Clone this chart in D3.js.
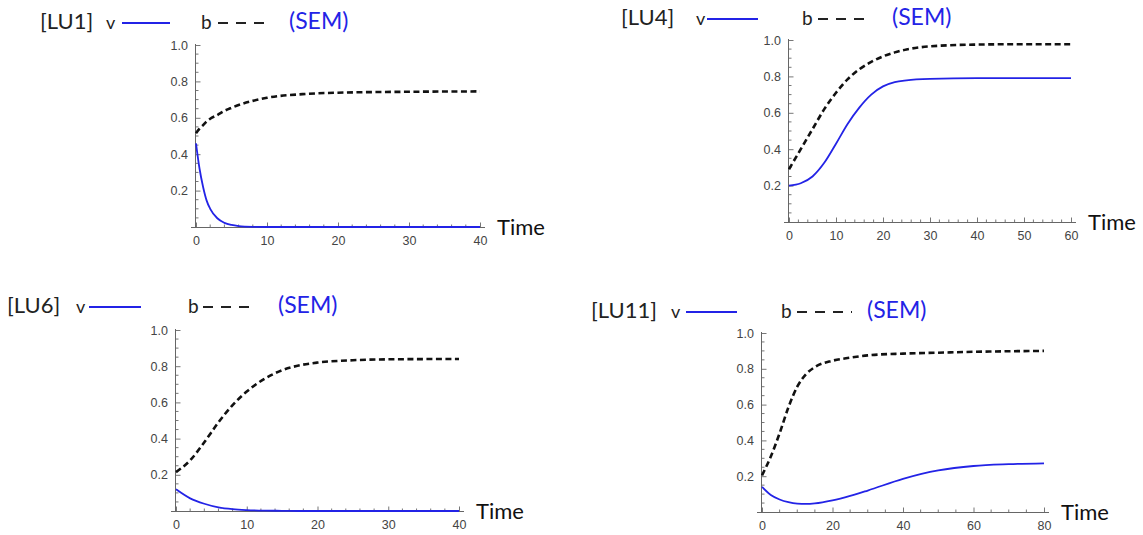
<!DOCTYPE html>
<html>
<head>
<meta charset="utf-8">
<script src="https://cdn.jsdelivr.net/npm/d3@7"></script>
<style>
  body { margin: 0; background: #fff; }
  .tick text { font-family: "Liberation Sans", Arial, sans-serif; font-size: 12.5px; fill: #444; }
  .ttl { font-family: Lato, "Open Sans", sans-serif; font-size: 22px; }
</style>
</head>
<body>
<div id="chart"></div>
<script>
// time points and values
var lu1Time = [0, 0.5, 1, 1.5, 2, 3, 4, 5, 6, 8, 10, 15, 20, 30, 40];
var lu1V = [0.46, 0.32, 0.22, 0.145, 0.1, 0.048, 0.023, 0.011, 0.005, 0.001, 0, 0, 0, 0, 0];
var lu1B = [0.515, 0.54, 0.56, 0.58, 0.595, 0.615, 0.638, 0.655, 0.67, 0.693, 0.71, 0.73, 0.738, 0.743, 0.745];

var lu4Time = [0, 2.5, 5, 7.5, 10, 12.5, 15, 17.5, 20, 22.5, 25, 30, 40, 50, 60];
var lu4V = [0.2, 0.213, 0.25, 0.325, 0.43, 0.54, 0.63, 0.7, 0.745, 0.768, 0.778, 0.786, 0.79, 0.79, 0.79];
var lu4B = [0.29, 0.4, 0.51, 0.62, 0.71, 0.785, 0.84, 0.88, 0.91, 0.932, 0.948, 0.965, 0.975, 0.977, 0.977];

var lu6Time = [0, 2, 4, 6, 8, 10, 12.5, 15, 17.5, 20, 25, 30, 40];
var lu6V = [0.12, 0.07, 0.04, 0.02, 0.01, 0.005, 0.002, 0.001, 0, 0, 0, 0, 0];
var lu6B = [0.215, 0.28, 0.38, 0.49, 0.585, 0.66, 0.73, 0.778, 0.805, 0.82, 0.833, 0.838, 0.84];

var lu11Time = [0, 2.5, 5, 7.5, 10, 12.5, 15, 20, 25, 30, 40, 50, 60, 70, 80];
var lu11V = [0.14, 0.095, 0.07, 0.055, 0.047, 0.045, 0.048, 0.065, 0.09, 0.12, 0.185, 0.232, 0.257, 0.267, 0.272];
var lu11B = [0.205, 0.31, 0.44, 0.585, 0.7, 0.77, 0.81, 0.845, 0.862, 0.875, 0.885, 0.89, 0.895, 0.898, 0.9];

var yTicks = [0.2, 0.4, 0.6, 0.8, 1.0];

var blue = "#2323e6";

var svg = d3.select("#chart").append("svg")
  .attr("width", 1143)
  .attr("height", 535);

var panels = [
  { name: "[LU1]", time: lu1Time, v: lu1V, b: lu1B, tMax: 40, major: 10, minor: 2,
    x0: 196, x1: 480, y0: 227, y1: 45,
    tx: 40, ty: 29, vx: 106, lx: [122, 170], bx: 201, dx: [218, 268], sx: 289 },
  { name: "[LU4]", time: lu4Time, v: lu4V, b: lu4B, tMax: 60, major: 10, minor: 2,
    x0: 789, x1: 1071, y0: 222, y1: 40,
    tx: 621, ty: 25, vx: 696, lx: [707, 758], bx: 802, dx: [818, 870], sx: 892 },
  { name: "[LU6]", time: lu6Time, v: lu6V, b: lu6B, tMax: 40, major: 10, minor: 2,
    x0: 176, x1: 459, y0: 511, y1: 330,
    tx: 7, ty: 313, vx: 76, lx: [89, 141], bx: 188, dx: [203, 255], sx: 278 },
  { name: "[LU11]", time: lu11Time, v: lu11V, b: lu11B, tMax: 80, major: 20, minor: 5,
    x0: 762, x1: 1044, y0: 512, y1: 333,
    tx: 591, ty: 318, vx: 671, lx: [686, 737], bx: 781, dx: [797, 852], sx: 867 }
];

panels.forEach(function(p) {
  var x = d3.scaleLinear().domain([0, p.tMax]).range([p.x0, p.x1]);
  var y = d3.scaleLinear().domain([0, 1]).range([p.y0, p.y1]);
  var g = svg.append("g");

  // minor ticks (inside, like Mathematica)
  var xMinor = d3.range(0, p.tMax + 0.001, p.minor).filter(function(t) { return t % p.major !== 0; });
  var yMinor = d3.range(0.05, 1.0, 0.05).filter(function(v) { return Math.abs(v * 5 - Math.round(v * 5)) > 0.01; });

  g.selectAll(".xmin").data(xMinor).enter().append("line")
    .attr("x1", d => x(d)).attr("x2", d => x(d))
    .attr("y1", p.y0).attr("y2", p.y0 - 2.5)
    .attr("stroke", "#777").attr("stroke-width", 1);
  g.selectAll(".ymin").data(yMinor).enter().append("line")
    .attr("x1", p.x0).attr("x2", p.x0 + 2.5)
    .attr("y1", d => y(d)).attr("y2", d => y(d))
    .attr("stroke", "#777").attr("stroke-width", 1);

  var xAxis = d3.axisBottom(x)
    .tickValues(d3.range(0, p.tMax + 0.001, p.major))
    .tickSizeInner(-4.5).tickSizeOuter(0).tickPadding(9);
  var yAxis = d3.axisLeft(y)
    .tickValues(yTicks)
    .tickFormat(d3.format(".1f"))
    .tickSizeInner(-4.5).tickSizeOuter(0).tickPadding(8);

  var gx = g.append("g").attr("transform", `translate(0, ${p.y0})`).call(xAxis);
  var gy = g.append("g").attr("transform", `translate(${p.x0}, 0)`).call(yAxis);
  gx.select(".domain").attr("d", `M${p.x0 - 5},0.5H${p.x1 + 5}`);
  gy.select(".domain").attr("d", `M-0.5,${p.y0 + 1}V${p.y1 - 1}`);
  g.selectAll(".domain").attr("stroke", "#666");
  g.selectAll(".tick line").attr("stroke", "#777");

  g.append("text")
    .attr("class", "ttl")
    .attr("x", p.x1 + 17)
    .attr("y", p.y0 + 8)
    .attr("fill", "#111")
    .text("Time");

  var line = d3.line()
    .x((d, i) => x(p.time[i]))
    .y(d => y(d))
    .curve(d3.curveMonotoneX);

  g.append("path")
    .attr("d", line(p.b))
    .attr("fill", "none")
    .attr("stroke", "#111")
    .attr("stroke-width", 2.6)
    .attr("stroke-dasharray", "6,3.5");

  g.append("path")
    .attr("d", line(p.v))
    .attr("fill", "none")
    .attr("stroke", blue)
    .attr("stroke-width", 1.8);

  // header legend
  g.append("text").attr("class", "ttl").attr("x", p.tx).attr("y", p.ty)
    .attr("fill", "#222").text(p.name);
  g.append("text").attr("class", "ttl").attr("x", p.vx).attr("y", p.ty)
    .attr("fill", "#222").style("font-size", "18px").text("v");
  g.append("line")
    .attr("x1", p.lx[0]).attr("x2", p.lx[1])
    .attr("y1", p.ty - 6).attr("y2", p.ty - 6)
    .attr("stroke", blue).attr("stroke-width", 2);
  g.append("text").attr("class", "ttl").attr("x", p.bx).attr("y", p.ty)
    .attr("fill", "#222").style("font-size", "19px").text("b");
  g.append("line")
    .attr("x1", p.dx[0]).attr("x2", p.dx[1])
    .attr("y1", p.ty - 6).attr("y2", p.ty - 6)
    .attr("stroke", "#222").attr("stroke-width", 2)
    .attr("stroke-dasharray", "10,8");
  g.append("text").attr("class", "ttl").attr("x", p.sx).attr("y", p.ty)
    .attr("fill", blue).style("font-size", "23px").text("(SEM)");
});
</script>
</body>
</html>
